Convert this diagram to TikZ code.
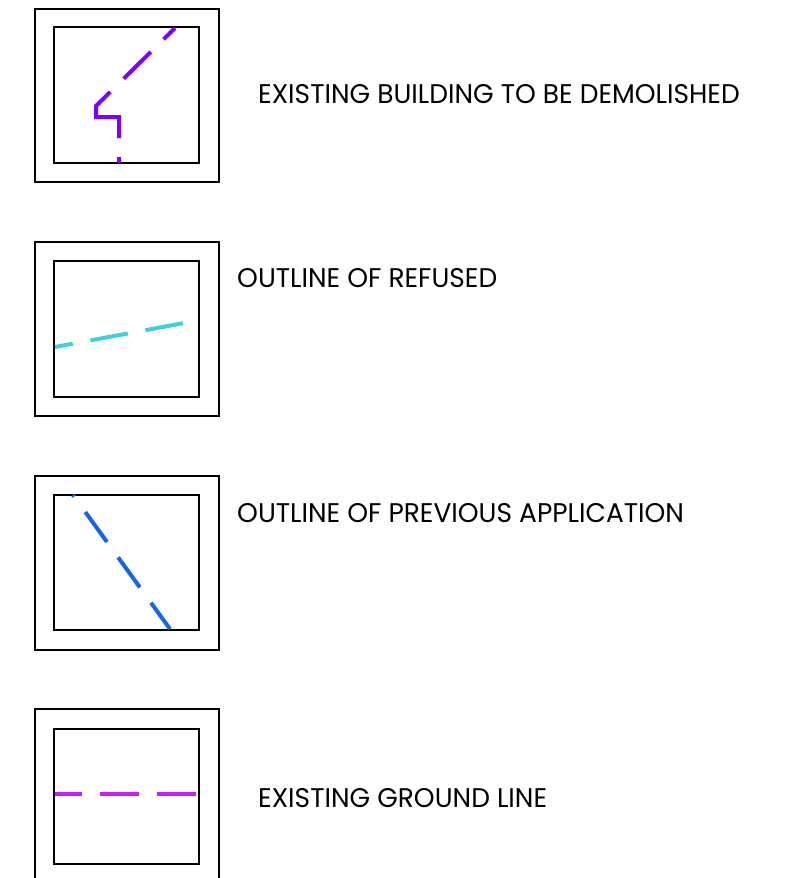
\documentclass[tikz,border=0pt]{standalone}
\usepackage{fontspec}
\setmainfont{Poppins}[FakeStretch=0.98]
\usepackage{tikz}
\usetikzlibrary{positioning}
\definecolor{demolishviolet}{HTML}{7F00FF}
\definecolor{refusedcyan}{HTML}{3CD2DC}
\definecolor{previousblue}{HTML}{1466E6}
\definecolor{groundmagenta}{HTML}{C81EFF}

\begin{document}
\begin{tikzpicture}[x=1pt,y=-1pt]
        \tikzstyle{legend_frame}=[draw=black,line width=1.8pt]
        \tikzstyle{legend_line}=[line width=4pt]
        \tikzstyle{legend_text}=[anchor=base west,inner sep=0pt,font=\fontsize{27}{30}\selectfont]
        \useasboundingbox (0,0) rectangle (809,878);
    % existing building to be demolished
    \draw[legend_frame] (35,9) rectangle (219,182);
    \draw[legend_frame] (54,27) rectangle (199,163);
    \draw[legend_line,demolishviolet,dash pattern=on 6pt off 19pt on 75pt off 19pt on 38pt off 18pt on 16pt]
      (119,163) -- (119,117) -- (96,117) -- (96,106) -- (175,28);
    \node[legend_text] (demolished) at (258,103.5) {EXISTING BUILDING TO BE DEMOLISHED};
    % outline of refused
    \draw[legend_frame] (35,242) rectangle (219,416);
    \draw[legend_frame] (54,261) rectangle (199,397);
    \draw[legend_line,refusedcyan,dash pattern=on 38pt off 18pt,dash phase=20pt]
      (55,347) -- (184,323);
    \node[legend_text] (refused) at (237,287) {OUTLINE OF REFUSED};
    % outline of previous application
    \draw[legend_frame] (35,476) rectangle (219,650);
    \draw[legend_frame] (54,495) rectangle (199,630);
    \draw[legend_line,previousblue,dash pattern=on 37pt off 19pt,dash phase=35pt]
      (73,495) -- (170,629);
    \node[legend_text] (previous) at (237,522) {OUTLINE OF PREVIOUS APPLICATION};
    % existing ground line
    \draw[legend_frame] (35,878) -- (35,709) -- (219,709) -- (219,878);
    \draw[legend_frame] (54,729) rectangle (199,864);
    \draw[legend_line,groundmagenta,dash pattern=on 39pt off 18pt,dash phase=12pt]
      (55,794) -- (196,794);
    \node[legend_text] (ground) at (258,807) {EXISTING GROUND LINE};
    \end{tikzpicture}
\end{document}
